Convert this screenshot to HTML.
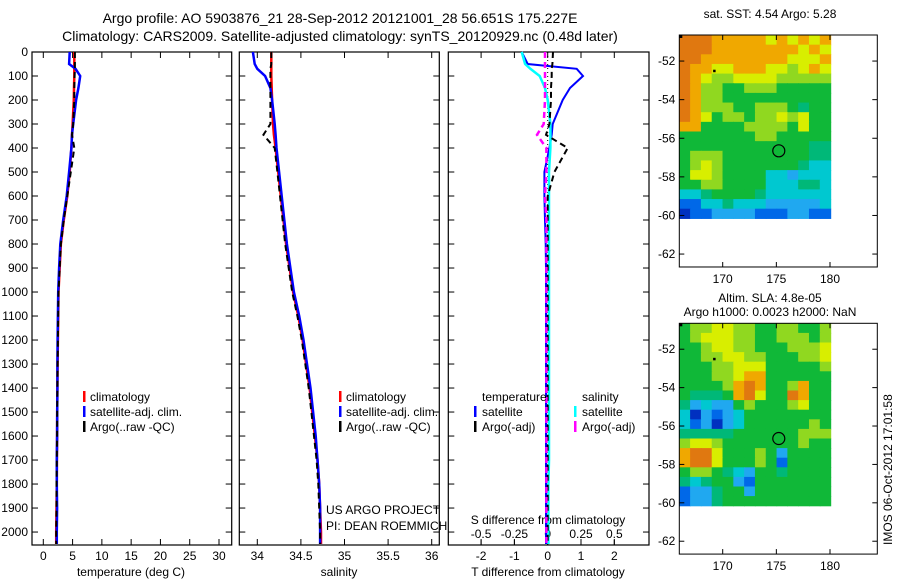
<!DOCTYPE html>
<html><head><meta charset="utf-8"><style>
body{margin:0;background:#fff;width:900px;height:580px;overflow:hidden}
svg{display:block;font-family:"Liberation Sans",sans-serif}
text{font-size:12px;fill:#000}
</style></head><body>
<svg id="c" width="900" height="580" xmlns="http://www.w3.org/2000/svg">
<text x="340" y="23" text-anchor="middle" style="font-size:14px">Argo profile: AO 5903876_21 28-Sep-2012 20121001_28 56.651S 175.227E</text>
<text x="340" y="41" text-anchor="middle" style="font-size:14px">Climatology: CARS2009. Satellite-adjusted climatology: synTS_20120929.nc (0.48d later)</text>
<text x="770" y="18" text-anchor="middle">sat. SST: 4.54 Argo: 5.28</text>
<text x="770" y="302" text-anchor="middle">Altim. SLA: 4.8e-05</text>
<text x="770" y="316" text-anchor="middle">Argo h1000: 0.0023 h2000: NaN</text>
<text transform="translate(892,545) rotate(-90)">IMOS 06-Oct-2012 17:01:58</text>
<g id="g"></g>
</svg>
<script>
// ---- data ----
const depths=[0,50,70,100,150,200,300,345,400,500,600,700,800,900,1000,1100,1200,1300,1400,1500,1600,1700,1800,1900,2000,2050];
const tempClim=[5.3,5.3,5.3,5.3,5.25,5.2,5.0,4.9,4.8,4.5,4.1,3.5,3.0,2.8,2.6,2.55,2.5,2.45,2.4,2.38,2.35,2.32,2.3,2.25,2.2,2.2];
const tempSat=[4.5,4.4,5.5,6.3,6.0,5.6,5.1,4.9,4.8,4.4,4.0,3.4,2.9,2.7,2.55,2.5,2.45,2.4,2.4,2.38,2.35,2.3,2.3,2.35,2.3,2.3];
const tempArgo=[5.4,5.4,5.4,5.35,5.3,5.3,5.1,4.9,5.3,4.7,4.1,3.5,3.0,2.8,2.6,2.55,2.5,2.45,2.4,2.38,2.35,2.3,2.25,2.25,2.2,2.2];
const salClim=[34.16,34.16,34.16,34.16,34.165,34.17,34.18,34.19,34.21,34.24,34.27,34.30,34.33,34.37,34.41,34.47,34.52,34.56,34.60,34.63,34.66,34.69,34.71,34.72,34.73,34.73];
const salSat=[33.95,33.97,34.0,34.09,34.15,34.17,34.2,34.21,34.22,34.25,34.28,34.31,34.34,34.38,34.42,34.48,34.53,34.57,34.61,34.64,34.67,34.69,34.71,34.72,34.72,34.72];
const salArgo=[34.16,34.16,34.15,34.15,34.15,34.15,34.15,34.07,34.2,34.23,34.26,34.29,34.32,34.36,34.40,34.46,34.51,34.55,34.59,34.62,34.65,34.68,34.70,34.71,34.72,34.72];
const tDiffSat=[-0.78,-0.6,0.87,1.06,0.67,0.45,0.15,0.12,0.05,-0.1,-0.1,-0.08,-0.06,-0.05,-0.05,-0.05,-0.05,-0.05,-0.05,-0.05,-0.05,-0.05,-0.05,-0.05,-0.05,-0.05];
const tDiffArgo=[0.16,0.14,0.12,0.12,0.1,0.1,0.05,-0.05,0.6,0.2,0.0,0.0,0.0,0.0,0.0,0.0,0.0,0.0,0.0,0.0,0.0,0.0,0.0,0.0,0.0,0.0];
const sDiffSat=[-0.195,-0.17,-0.13,-0.06,-0.02,0.0,0.02,0.02,0.02,0.01,0.01,0.01,0.01,0.01,0.01,0.01,0.01,0.01,0.01,0.01,0.01,0.01,0.005,0.005,0.005,0.005];
const sDiffArgo=[-0.02,-0.02,-0.02,-0.02,-0.02,-0.02,-0.03,-0.08,-0.01,-0.01,-0.02,-0.01,-0.01,-0.01,-0.01,-0.01,-0.01,-0.01,-0.01,-0.01,-0.01,-0.01,-0.01,-0.01,-0.01,-0.01];
const depthTicks=[0,100,200,300,400,500,600,700,800,900,1000,1100,1200,1300,1400,1500,1600,1700,1800,1900,2000];
const tempTicks=[0,5,10,15,20,25,30];
const salTicks=[34,34.5,35,35.5,36];
const tDiffTicks=[-2,-1,0,1,2];
const sDiffTicks=[-0.5,-0.25,0,0.25,0.5];
const lonTicks=[170,175,180];
const latTicks=[-52,-54,-56,-58,-60,-62];
const sstRows=["99988888787878","99988888888787","99888888887778","98877888776787","98766777766666","98665566655555","98665555555555","98666556665455","98756656676755","88555566665755","55555556655555","55555555555544","56665555555544","56765555555433","57765555332333","55665555333443","33455554333333","11334333222223","01122221112211"];
const slaRows=["56677665566556","56777665566656","55677665556667","55667766555667","55566777555556","55566788555555","55556898556855","54445897559855","42322565556755","30212355555555","31202355555565","44444555555666","67765555555655","89975556525555","89975556515555","56654325545555","43455215555555","12245525555555","12245555555555"];
const palette=["#0030c0","#0068e8","#20a8f0","#00c8d0","#00b878","#10b838","#90d820","#d8ee00","#f0a800","#e07810"];
const argoLon=175.227, argoLat=-56.651;

const NS="http://www.w3.org/2000/svg";
const G=document.getElementById('g');
function mk(tag,attrs,parent){const e=document.createElementNS(NS,tag);for(const k in attrs)e.setAttribute(k,attrs[k]);(parent||G).appendChild(e);return e;}
const Y0=52,Y1=545;
const yD=d=>Y0+(d-0)*(Y1-Y0)/2054;
function lin(d0,d1,r0,r1){return v=>r0+(v-d0)*(r1-r0)/(d1-d0);}
const xT=lin(0,30,43.3,219);
const xS=lin(34,36,257.3,431.7);
const xTd=lin(0,1,547.7,581);
const xSd=lin(0,0.25,547.7,581);

function frame(x0,x1,name,xs,ticks,fmt,ylabels){
  const r=mk('rect',{x:x0,y:Y0,width:x1-x0,height:Y1-Y0,fill:'none',stroke:'#000','stroke-width':1.2});
  
  
  depthTicks.forEach(d=>{
    mk('line',{x1:x0,x2:x0+6,y1:yD(d),y2:yD(d),stroke:'#000'});
    mk('line',{x1:x1,x2:x1-6,y1:yD(d),y2:yD(d),stroke:'#000'});
    if(ylabels){const t=mk('text',{x:28,y:yD(d)+4,'text-anchor':'end'});t.textContent=d;
      
      }
  });
  ticks.forEach(v=>{
    const x=xs(v);
    mk('line',{x1:x,x2:x,y1:Y1,y2:Y1-6,stroke:'#000'});
    mk('line',{x1:x,x2:x,y1:Y0,y2:Y0+6,stroke:'#000'});
    const t=mk('text',{x:x,y:560,'text-anchor':'middle'});t.textContent=fmt(v);
    
    
  });
}
function line(xs,vals,color,w,dash,name){
  const pts=depths.map((d,i)=>xs(vals[i]).toFixed(1)+','+yD(d).toFixed(1)).join(' ');
  const p=mk('polyline',{points:pts,fill:'none',stroke:color,'stroke-width':w});
  if(dash)p.setAttribute('stroke-dasharray',dash);
  
  
}
function label(x,y,txt,name,anchor){const t=mk('text',{x:x,y:y,'text-anchor':anchor||'start'});t.textContent=txt;
  
  return t;}
function legend(mx,tx,y,color,txt,name){
  mk('rect',{x:mx,y:y-10,width:2.5,height:11,fill:color});
  label(tx,y,txt,name);
}
// panel 1
frame(32,231.7,'temperature-panel',xT,tempTicks,v=>v,true);
line(xT,tempClim,'#f00',2.5,null,'temp-climatology-line');
line(xT,tempSat,'#00f',2.5,null,'temp-satellite-line');
line(xT,tempArgo,'#000',2,'6,4','temp-argo-line');
label(131,576,'temperature (deg C)','temperature-x-axis-title','middle');
legend(83,90,401,'#f00','climatology','legend-climatology');
legend(83,90,416,'#00f','satellite-adj. clim.','legend-satellite');
legend(83,90,431,'#000','Argo(..raw -QC)','legend-argo');
// panel 2
frame(239.3,439.3,'salinity-panel',xS,salTicks,v=>v,false);
line(xS,salClim,'#f00',2.5,null,'sal-climatology-line');
line(xS,salSat,'#00f',2.5,null,'sal-satellite-line');
line(xS,salArgo,'#000',2,'6,4','sal-argo-line');
label(339,576,'salinity','salinity-x-axis-title','middle');
legend(339,346,401,'#f00','climatology','legend-climatology-2');
legend(339,346,416,'#00f','satellite-adj. clim.','legend-satellite-2');
legend(339,346,431,'#000','Argo(..raw -QC)','legend-argo-2');
label(326,514,'US ARGO PROJECT','project-label');
label(326,530,'PI: DEAN ROEMMICH','pi-label');
// panel 3
frame(448.3,649,'difference-panel',xTd,tDiffTicks,v=>v,false);
sDiffTicks.forEach(v=>{const x=xSd(v);mk('line',{x1:x,x2:x,y1:545,y2:540,stroke:'#000'});
  label(x,538,String(v),'s-diff-tick-label','middle');});
label(548,524,'S difference from climatology','s-diff-axis-title','middle');
label(548,576,'T difference from climatology','t-diff-axis-title','middle');
mk('line',{x1:xTd(0),x2:xTd(0),y1:Y0,y2:Y1,stroke:'#000','stroke-dasharray':'1,3'});
line(xTd,tDiffSat,'#00f',2,null,'tdiff-satellite-line');
line(xSd,sDiffSat,'#0ff',2.5,null,'sdiff-satellite-line');
line(xTd,tDiffArgo,'#000',2,'6,4','tdiff-argo-line');
line(xSd,sDiffArgo,'#f0f',2.5,'6,4','sdiff-argo-line');
label(482,401,'temperature','legend-temperature-header');
legend(474,482,416,'#00f','satellite','legend-t-satellite');
legend(474,482,431,'#000','Argo(-adj)','legend-t-argo');
label(582,401,'salinity','legend-salinity-header');
legend(574,582,416,'#0ff','satellite','legend-s-satellite');
legend(574,582,431,'#f0f','Argo(-adj)','legend-s-argo');
// maps
const xL=lin(170,180,722.7,830);
function map(rows,top,latPx,name){
  const yL=lat=>top+(-50.65-lat)*latPx;
  const x0=679.3,x1=877.3,yb=yL(-62.67);
  const cw=(xL(180.1)-xL(166))/14, ch=(yL(-60.15)-yL(-50.65))/rows.length;
  rows.forEach((r,i)=>{for(let j=0;j<r.length;j++){
    mk('rect',{x:(x0+j*cw).toFixed(2),y:(top+i*ch).toFixed(2),width:(cw+0.6).toFixed(2),height:(ch+0.6).toFixed(2),fill:palette[+r[j]]});
  }});
  const f=mk('rect',{x:x0,y:top,width:x1-x0,height:yb-top,fill:'none',stroke:'#000'});
  
  
  latTicks.forEach(v=>{const y=yL(v);mk('line',{x1:x0,x2:x0+5,y1:y,y2:y,stroke:'#000'});mk('line',{x1:x1,x2:x1-5,y1:y,y2:y,stroke:'#000'});
    label(x0-4,y+4,v,name+'-lat-label','end');});
  lonTicks.forEach(v=>{const x=xL(v);mk('line',{x1:x,x2:x,y1:top,y2:top+5,stroke:'#000'});mk('line',{x1:x,x2:x,y1:yb,y2:yb-5,stroke:'#000'});
    label(x,yb+16,v,name+'-lon-label','middle');});
  const c=mk('circle',{cx:xL(argoLon),cy:yL(argoLat),r:6,fill:'none',stroke:'#000','stroke-width':1.2});
  
  
  mk('rect',{x:xL(169.2)-1,y:yL(-52.5)-1,width:2.5,height:2.5,fill:'#000'});
  mk('rect',{x:x0,y:top,width:3,height:3,fill:'#000'});
}
map(sstRows,35,19.3,'sst-map');
map(slaRows,323.3,19.2,'sla-map');
</script>
</body></html>
